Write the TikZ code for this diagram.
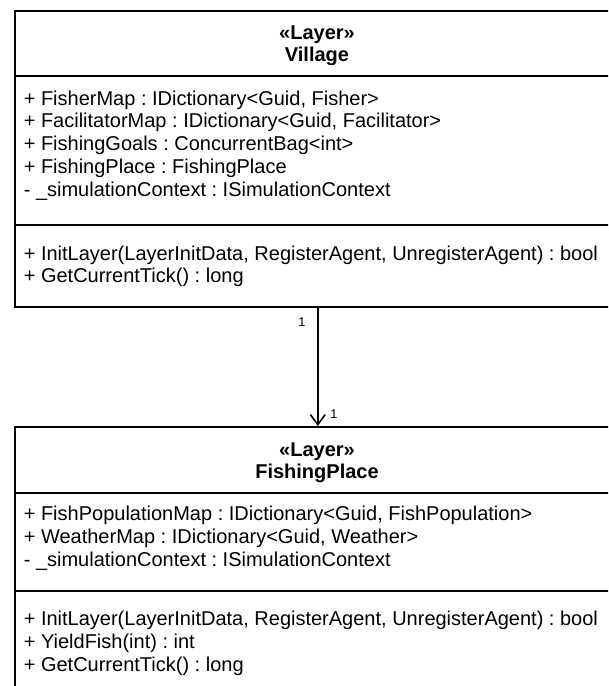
\documentclass[tikz,border=0pt]{standalone}
\usepackage{fontspec}
\setmainfont{Liberation Sans}
\usetikzlibrary{arrows.meta}
\frenchspacing
\begin{document}
\begin{tikzpicture}[x=0.75pt,y=-0.75pt, line width=1.2pt,
  classbox/.style={draw, rectangle, anchor=north west, inner sep=0pt, minimum width=454.5pt},
  member/.style={anchor=west, inner sep=0pt, font=\fontsize{15}{18}\selectfont},
  header/.style={anchor=center, inner sep=0pt, align=center, font=\fontsize{15}{16.5}\selectfont\bfseries},
  mult/.style={inner sep=0pt, font=\fontsize{9.5}{11}\selectfont},
  assoc/.style={-{Straight Barb[length=7.5pt, width=11pt, line width=1.2pt]}}]
\useasboundingbox (0,0) rectangle (608,686);
\clip (0,0) rectangle (608,686);

% Village layer class
\node[classbox, minimum height=222pt] (village) at (14,10) {};
\node[header] (vhead) at (317,46) {«Layer»\\Village};
\draw (village.west |- 0,76) -- (village.east |- 0,76);
\draw (village.west |- 0,225) -- (village.east |- 0,225);
\node[member] (va1) at (23,100) {+ FisherMap : IDictionary<Guid, Fisher>};
\node[member] (va2) at (23,122) {+ FacilitatorMap : IDictionary<Guid, Facilitator>};
\node[member] (va3) at (23,145) {+ FishingGoals : ConcurrentBag<int>};
\node[member] (va4) at (23,168) {+ FishingPlace : FishingPlace};
\node[member] (va5) at (23,191) {- \_simulationContext : ISimulationContext};
\node[member] (vm1) at (23,255) {+ InitLayer(LayerInitData, RegisterAgent, UnregisterAgent) : bool};
\node[member] (vm2) at (23,277) {+ GetCurrentTick() : long};

% FishingPlace layer class
\node[classbox, minimum height=210pt] (fishing) at (14,426) {};
\node[header] (fhead) at (317,463) {«Layer»\\FishingPlace};
\draw (fishing.west |- 0,493) -- (fishing.east |- 0,493);
\draw (fishing.west |- 0,591) -- (fishing.east |- 0,591);
\node[member] (fa1) at (23,515) {+ FishPopulationMap : IDictionary<Guid, FishPopulation>};
\node[member] (fa2) at (23,538) {+ WeatherMap : IDictionary<Guid, Weather>};
\node[member] (fa3) at (23,561) {- \_simulationContext : ISimulationContext};
\node[member] (fm1) at (23,620) {+ InitLayer(LayerInitData, RegisterAgent, UnregisterAgent) : bool};
\node[member] (fm2) at (23,643) {+ YieldFish(int) : int};
\node[member] (fm3) at (23,666) {+ GetCurrentTick() : long};

% directed association with multiplicities
\draw[assoc] (village.south) --
  node[mult, pos=0.12, xshift=-12pt] (m1) {1}
  node[mult, pos=0.9, xshift=12pt] (m2) {1}
  (fishing.north);
\end{tikzpicture}
\end{document}
